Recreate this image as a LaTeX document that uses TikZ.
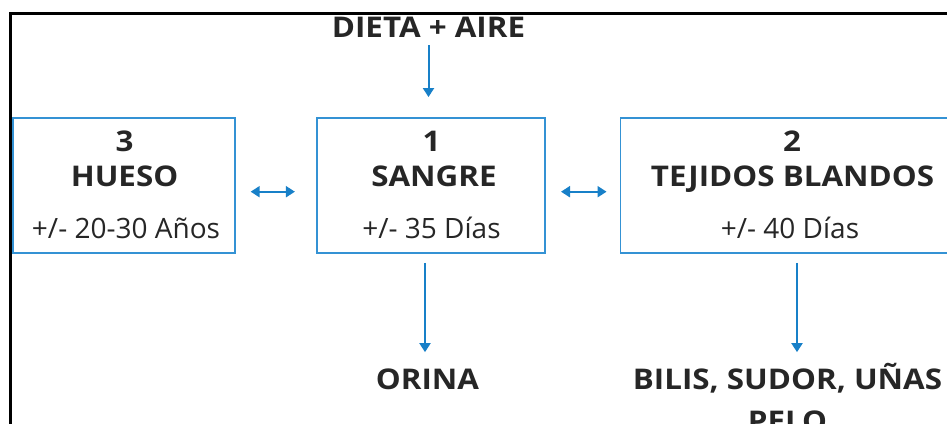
\documentclass[tikz,border=0pt]{standalone}
\usepackage{fontspec}
\setmainfont{Open Sans}
\newfontfamily\ttlfont[FakeStretch=1.1]{Open Sans}
\usetikzlibrary{arrows.meta}
\definecolor{boxblue}{RGB}{52,146,212}
\definecolor{arrblue}{RGB}{24,128,200}
\tikzset{
  box/.style={draw=boxblue, line width=1.9pt, inner sep=0pt},
  ttl/.style={inner sep=0pt, anchor=base, font=\fontsize{28.5}{34}\ttlfont\bfseries, text=black!85},
  dur/.style={inner sep=0pt, anchor=base, font=\fontsize{28}{33}\selectfont, text=black!85},
  arr/.style={draw=arrblue, line width=2pt, -{Triangle[width=11pt,length=9pt]}},
  dbl/.style={draw=arrblue, line width=2pt, {Triangle[width=11pt,length=9pt]}-{Triangle[width=11pt,length=9pt]}},
}
\begin{document}
\begin{tikzpicture}[x=1pt,y=-1pt]
\useasboundingbox (0,0) rectangle (947,423);
\clip (0,0) rectangle (947,423);
% frame
\draw[line width=2.7pt, black] (10.7,430) -- (10.7,13.5) -- (960,13.5);
% boxes
\node[box, minimum width=222pt, minimum height=135pt] (hueso) at (123.7,185.5) {};
\node[box, minimum width=227.7pt, minimum height=135pt] (sangre) at (431.2,185.5) {};
\node[box, minimum width=341pt, minimum height=135pt] (tejidos) at (791,185.5) {};
% texts
\node[ttl] (dieta) at (428.5,37) {DIETA + AIRE};
\node[ttl] (hn) at (124.5,151) {3};
\node[ttl] (ht) at (124.5,186) {HUESO};
\node[dur] (hd) at (126,238) {+/- 20-30 Años};
\node[ttl] (sn) at (431.5,151) {1};
\node[ttl] (st) at (434,186) {SANGRE};
\node[dur] (sd) at (431.5,238) {+/- 35 Días};
\node[ttl] (tn) at (792,151) {2};
\node[ttl] (tt) at (792.5,186) {TEJIDOS BLANDOS};
\node[dur] (td) at (790,238) {+/- 40 Días};
\node[ttl] (orina) at (427.5,389) {ORINA};
\node[ttl] (bilis) at (787.5,389) {BILIS, SUDOR, UÑAS};
\node[ttl] (pelo) at (787.5,431) {PELO};
% connectors
\draw[arr, shorten <=8pt, shorten >=20pt] (dieta.south) -- (dieta.south |- sangre.north);
\draw[dbl, shorten <=15pt, shorten >=21.5pt] ([yshift=-6.2pt]hueso.east) -- ([yshift=-6.2pt]sangre.west);
\draw[dbl, shorten <=15pt, shorten >=13pt] ([yshift=-6.2pt]sangre.east) -- ([yshift=-6.2pt]tejidos.west);
\draw[arr, shorten <=9pt, shorten >=16pt] ([xshift=-6.2pt]sangre.south) -- ([xshift=-6.2pt]sangre.south |- orina.north);
\draw[arr, shorten <=9pt, shorten >=16pt] ([xshift=6pt]tejidos.south) -- ([xshift=6pt]tejidos.south |- orina.north);
\end{tikzpicture}
\end{document}
